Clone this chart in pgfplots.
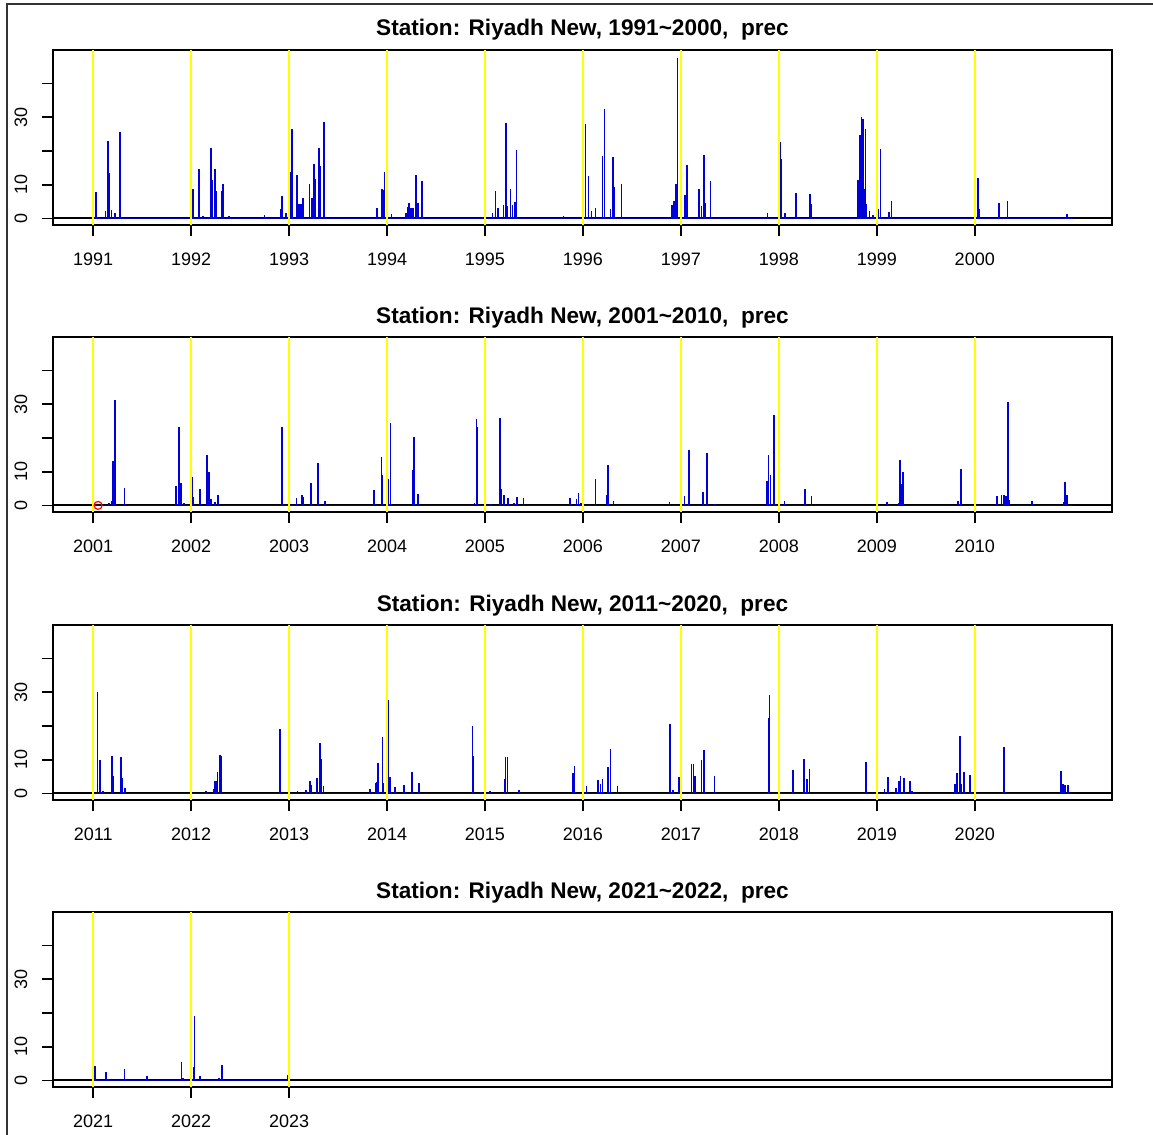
\documentclass[border=0pt]{standalone}
\usepackage{fontspec}
\setmainfont{Liberation Sans}
\usepackage{pgfplots}
\pgfplotsset{compat=1.18}

\definecolor{rblue}{RGB}{0,0,255}
\definecolor{ryellow}{RGB}{255,255,0}

% one panel of the R-style precipitation plot
\pgfplotsset{
  panel/.style={
    scale only axis, width=529.5pt, height=87.5pt,
    ymin=-1.95, ymax=49.95,
    ytick={0,10,20,30,40}, yticklabels={0,10,,30,},
    tick pos=left, tick align=outside,
    major tick length=5.3pt,
    axis line style={line width=0.9pt},
    every tick/.style={black, line width=0.9pt},
    ticklabel style={font=\fontsize{9}{10}\selectfont},
    yticklabel style={rotate=90, anchor=south},
    yticklabel shift=4pt,
    xticklabel shift=5pt,
    /pgf/number format/1000 sep={},
    /pgf/number format/assume math mode=true,
    title style={at={(0.5,1)}, anchor=base, yshift=1pt,
      font=\fontsize{11.3}{13}\selectfont\bfseries},
    clip=true,
  },
  spikes/.style={ycomb, rblue!85!black, line width=0.8pt, no markers},
  base/.style={rblue!70!black, line width=0.5pt, no markers},
  zero/.style={black, line width=1pt, no markers},
}

\begin{document}
\begin{tikzpicture}
\useasboundingbox (0pt,0pt) rectangle (576.5pt,-567.5pt);
\draw[line width=0.9pt, black!80] (3.6pt,-567.5pt) -- (3.6pt,-2pt) -- (576.5pt,-2pt);

% ---------------- 1991~2000
\begin{axis}[panel, at={(26.5pt,-112.5pt)}, anchor=south west,
  xmin=1990.59, xmax=2001.4, xtick={1991,...,2000},
  title={Station: Riyadh New, 1991\textasciitilde 2000, \ prec}]
\addplot[zero] coordinates {(1990.59,0) (2001.4,0)};
\addplot[base] coordinates {(1991,0) (2001,0)};
\addplot[spikes] coordinates {
(1991.027,7.7) (1991.126,2.2) (1991.150,23.1) (1991.167,13.6) (1991.187,2.5)
(1991.221,1.5) (1991.272,25.5) (1992.020,8.8) (1992.075,11.2) (1992.082,14.7)
(1992.122,0.7) (1992.201,20.8) (1992.214,11.3) (1992.241,14.7) (1992.252,8.2)
(1992.310,8.1) (1992.326,10.3) (1992.384,0.7) (1992.748,0.9) (1992.912,2.8)
(1992.929,6.7) (1992.969,1.6) (1993.020,13.8) (1993.031,26.4) (1993.082,12.8)
(1993.092,4.4) (1993.112,4.4) (1993.126,4.2) (1993.143,6.1) (1993.207,10.1)
(1993.235,6.2) (1993.252,16.0) (1993.269,11.8) (1993.306,20.8) (1993.313,15.5)
(1993.354,28.5) (1993.361,8.6) (1993.898,3.1) (1993.946,8.8) (1993.959,8.4)
(1993.973,13.8) (1994.045,1.2) (1994.194,1.7) (1994.211,3.4) (1994.224,4.6)
(1994.245,3.2) (1994.262,3.0) (1994.296,13.0) (1994.316,4.7) (1994.357,11.1)
(1994.976,0.5) (1995.078,1.5) (1995.105,8.1) (1995.133,3.2) (1995.190,3.9)
(1995.214,28.2) (1995.231,3.7) (1995.259,8.8) (1995.282,3.9) (1995.306,4.9)
(1995.320,20.2) (1995.803,0.7) (1995.993,6.1) (1996.024,28.0) (1996.058,12.6)
(1996.088,2.1) (1996.126,3.0) (1996.201,18.5) (1996.221,32.4) (1996.282,2.8)
(1996.306,18.3) (1996.316,9.3) (1996.395,10.2) (1996.908,3.9) (1996.932,5.2)
(1996.949,10.3) (1996.959,9.8) (1996.966,47.7) (1997.041,6.9) (1997.061,15.7)
(1997.187,8.7) (1997.211,3.7) (1997.235,18.7) (1997.248,4.6) (1997.303,11.1)
(1997.884,1.7) (1998.017,22.6) (1998.024,17.7) (1998.065,1.5) (1998.177,7.6)
(1998.316,7.1) (1998.327,4.4) (1998.806,11.5) (1998.830,24.6) (1998.844,30.2)
(1998.857,29.5) (1998.867,8.6) (1998.884,26.4) (1998.895,4.4) (1998.925,2.2)
(1998.963,1.0) (1999.017,2.7) (1999.037,20.6) (1999.122,1.8) (1999.150,5.1)
(2000.031,12.1) (2000.044,2.8) (2000.248,4.6) (2000.333,5.1) (2000.939,1.2)
};
\pgfplotsinvokeforeach{1991,...,2000}{
  \draw[ryellow, line width=1pt] (axis cs:#1,-1.95) -- (axis cs:#1,49.95);}
\end{axis}

% ---------------- 2001~2010
\begin{axis}[panel, at={(26.5pt,-256pt)}, anchor=south west,
  xmin=2000.59, xmax=2011.4, xtick={2001,...,2010},
  title={Station: Riyadh New, 2001\textasciitilde 2010, \ prec}]
\addplot[zero] coordinates {(2000.59,0) (2011.4,0)};
\addplot[base] coordinates {(2001,0) (2011,0)};
\addplot[spikes] coordinates {
(2001.160,0.8) (2001.187,1.3) (2001.204,13.3) (2001.221,31.3) (2001.320,5.2)
(2001.847,5.7) (2001.878,23.4) (2001.895,6.7) (2001.925,0.8) (2002.007,8.4)
(2002.017,2.6) (2002.088,4.9) (2002.160,14.9) (2002.180,9.8) (2002.204,1.8)
(2002.241,1.0) (2002.272,3.0) (2002.929,23.2) (2003.075,2.3) (2003.129,3.0)
(2003.143,2.5) (2003.221,6.7) (2003.289,2.8) (2003.296,12.6) (2003.364,1.3)
(2003.864,4.7) (2003.942,14.3) (2003.949,9.1) (2004.014,7.7) (2004.034,24.4)
(2004.262,10.4) (2004.272,20.3) (2004.313,3.5) (2004.891,0.6) (2004.912,25.7)
(2004.925,23.4) (2005.054,0.4) (2005.150,26.0) (2005.163,5.0) (2005.194,3.2)
(2005.235,2.1) (2005.293,0.6) (2005.327,2.6) (2005.391,2.3) (2005.867,2.3)
(2005.935,1.8) (2005.956,3.7) (2005.980,0.8) (2006.129,7.7) (2006.245,3.2)
(2006.255,11.9) (2006.310,1.4) (2006.881,1.0) (2007.037,2.9) (2007.082,16.5)
(2007.224,4.0) (2007.268,15.5) (2007.350,0.3) (2007.878,7.2) (2007.895,15.0)
(2007.912,9.0) (2007.952,26.8) (2008.058,1.3) (2008.269,5.0) (2008.333,2.9)
(2009.102,1.0) (2009.221,0.6) (2009.235,13.6) (2009.248,6.5) (2009.269,9.9)
(2009.830,1.3) (2009.857,10.9) (2010.224,2.9) (2010.272,3.2) (2010.296,3.0)
(2010.320,2.9) (2010.337,30.8) (2010.354,1.5) (2010.582,1.3) (2010.905,1.0)
(2010.918,6.8) (2010.942,3.2)
};
\addplot[only marks, mark=o, red, mark size=2pt, line width=0.6pt] coordinates {(2001.05,0)};
\pgfplotsinvokeforeach{2001,...,2010}{
  \draw[ryellow, line width=1pt] (axis cs:#1,-1.95) -- (axis cs:#1,49.95);}
\end{axis}

% ---------------- 2011~2020
\begin{axis}[panel, at={(26.5pt,-400pt)}, anchor=south west,
  xmin=2010.59, xmax=2021.4, xtick={2011,...,2020},
  title={Station: Riyadh New, 2011\textasciitilde 2020, \ prec}]
\addplot[zero] coordinates {(2010.59,0) (2021.4,0)};
\addplot[base] coordinates {(2011,0) (2021,0)};
\addplot[spikes] coordinates {
(2011.044,30.0) (2011.071,9.9) (2011.102,0.6) (2011.190,11.0) (2011.201,5.2)
(2011.286,10.7) (2011.299,4.7) (2011.327,1.5) (2012.150,0.8) (2012.228,1.3)
(2012.241,3.8) (2012.252,3.6) (2012.269,6.4) (2012.293,11.4) (2012.310,11.2)
(2012.908,19.1) (2013.085,0.8) (2013.170,1.1) (2013.214,3.8) (2013.228,2.6)
(2013.286,4.6) (2013.316,15.0) (2013.327,10.2) (2013.350,2.1) (2013.823,1.3)
(2013.884,3.0) (2013.895,3.5) (2013.908,9.0) (2013.952,16.8) (2013.963,3.1)
(2014.014,27.7) (2014.031,5.0) (2014.078,1.8) (2014.173,2.6) (2014.252,6.5)
(2014.327,3.1) (2014.874,20.1) (2014.884,11.2) (2014.959,0.3) (2015.048,0.6)
(2015.197,4.3) (2015.207,10.7) (2015.231,10.7) (2015.344,1.1) (2015.895,6.0)
(2015.915,8.2) (2016.037,2.1) (2016.153,4.1) (2016.177,2.8) (2016.201,4.3)
(2016.255,7.9) (2016.279,13.2) (2016.354,2.1) (2016.891,20.6) (2016.918,1.0)
(2016.980,5.0) (2017.109,8.7) (2017.129,8.7) (2017.146,5.2) (2017.211,9.9)
(2017.238,12.9) (2017.344,5.2) (2017.895,22.5) (2017.905,29.3) (2018.146,6.9)
(2018.259,10.2) (2018.286,4.4) (2018.313,7.2) (2018.891,9.4) (2019.078,1.3)
(2019.112,5.0) (2019.197,1.5) (2019.224,3.8) (2019.241,5.2) (2019.276,4.5)
(2019.337,3.8) (2019.361,0.8) (2019.799,2.8) (2019.820,6.2) (2019.850,17.1)
(2019.864,2.8) (2019.888,6.5) (2019.952,5.4) (2020.003,7.5) (2020.293,5.7)
(2020.299,13.7) (2020.881,6.7) (2020.898,2.8) (2020.922,2.5) (2020.949,2.5)
};
\pgfplotsinvokeforeach{2011,...,2020}{
  \draw[ryellow, line width=1pt] (axis cs:#1,-1.95) -- (axis cs:#1,49.95);}
\end{axis}

% ---------------- 2021~2022
\begin{axis}[panel, at={(26.5pt,-543.5pt)}, anchor=south west,
  xmin=2020.59, xmax=2031.4, xtick={2021,2022,2023},
  title={Station: Riyadh New, 2021\textasciitilde 2022, \ prec}]
\addplot[zero] coordinates {(2020.59,0) (2031.4,0)};
\addplot[base] coordinates {(2021,0) (2023,0)};
\addplot[spikes] coordinates {
(2021.020,4.3) (2021.133,2.4) (2021.153,0.5) (2021.320,3.4) (2021.551,1.3)
(2021.901,5.4) (2021.918,0.8) (2022.000,8.4) (2022.027,4.0) (2022.034,19.1)
(2022.092,1.2) (2022.282,0.7) (2022.313,4.6) (2022.320,4.4) (2022.986,1.5)
};
\pgfplotsinvokeforeach{2021,2022,2023}{
  \draw[ryellow, line width=1pt] (axis cs:#1,-1.95) -- (axis cs:#1,49.95);}
\end{axis}
\end{tikzpicture}
\end{document}
